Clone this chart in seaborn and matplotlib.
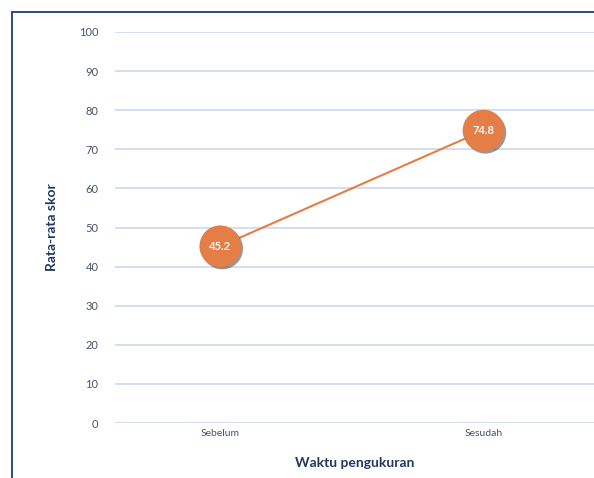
import matplotlib
matplotlib.use("Agg")
import matplotlib.pyplot as plt
import matplotlib.patheffects as pe
from matplotlib.patches import Rectangle
import pandas as pd
import seaborn as sns

# data
waktu = ["Sebelum", "Sesudah"]
rata_skor = [45.2, 74.8]
y_ticks = [0, 10, 20, 30, 40, 50, 60, 70, 80, 90, 100]

df = pd.DataFrame({"waktu": waktu, "skor": rata_skor})

sns.set_theme(style="white")
plt.rcParams["font.family"] = ["Lato", "DejaVu Sans"]

orange = "#E47D46"
navy = "#1F3864"
tick_col = "#44546A"
grid_col = "#C9D4EE"

fig = plt.figure(figsize=(5.94, 4.78), dpi=100)
ax = fig.add_axes([115 / 594, 55 / 478, 1 - 115 / 594, (423 - 32) / 478])

for t in y_ticks:
    ax.axhline(t, color=grid_col, lw=1.1, zorder=0)

sns.lineplot(data=df, x="waktu", y="skor", ax=ax, color=orange, lw=1.5,
             sort=False, zorder=2)
sc = ax.scatter(range(len(waktu)), rata_skor, s=30 ** 2, color=orange,
                edgecolors="none", zorder=3)
sc.set_path_effects([pe.SimplePatchShadow(offset=(1.4, -1.6), shadow_rgbFace="#333333",
                                          alpha=0.5), pe.Normal()])

for i, v in enumerate(rata_skor):
    ax.text(i, v, f"{v:.1f}", color="white", ha="center", va="center",
            fontsize=8, fontweight="bold", zorder=4)

ax.set_xlim(-0.4, 1.42)
ax.set_ylim(0, 100)
ax.set_yticks(y_ticks)
ax.set_xticks(range(len(waktu)))
ax.set_xticklabels(waktu)
ax.tick_params(axis="y", labelsize=8, colors=tick_col, length=0, pad=12)
ax.tick_params(axis="x", labelsize=7.5, colors=tick_col, length=0, pad=4)
for s in ax.spines.values():
    s.set_visible(False)

ax.set_xlabel("Waktu pengukuran", fontsize=10, fontweight="bold", color=navy, labelpad=14)
ax.set_ylabel("Rata-rata skor", fontsize=10, fontweight="bold", color=navy, labelpad=15)

# outer frame (only top and left visible in the crop)
fig.add_artist(Rectangle((12 / 594, -0.5), 2, 0.5 + 1 - 12 / 478, transform=fig.transFigure,
                         fill=False, edgecolor="#1F3A7A", lw=1.3))

fig.savefig("out.png", dpi=100)
